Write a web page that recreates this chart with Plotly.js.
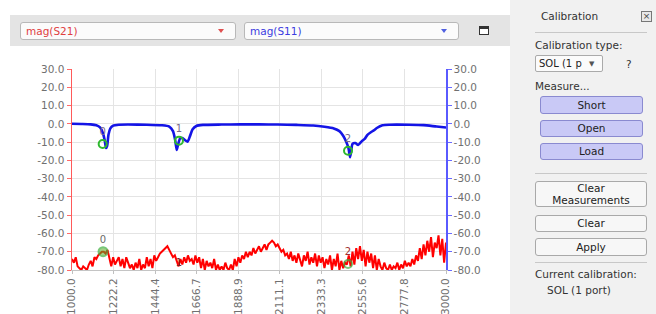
<!DOCTYPE html>
<html>
<head>
<meta charset="utf-8">
<script src="https://cdn.plot.ly/plotly-3.0.1.min.js"></script>
<style>
  html, body { margin:0; padding:0; background:#fff; }
  body { width:656px; height:314px; overflow:hidden; position:relative; font-family:"DejaVu Sans", Verdana, sans-serif; }
  #plot { position:absolute; left:0; top:0; width:656px; height:314px; }
  .abs { position:absolute; }
  #toolbar { left:10px; top:15px; width:500px; height:31px; background:#e4e4e4; }
  .dd { position:absolute; top:7px; height:16px; background:#fbfbfb; border:1px solid #b8b8b8; border-radius:3px; font-size:10.5px; line-height:16px; padding-left:5px; box-sizing:content-box; }
  .arrow { position:absolute; top:6px; width:0; height:0; border-left:3.5px solid transparent; border-right:3.5px solid transparent; }
  #panel { left:510px; top:0; width:146px; height:314px; background:#f1f1f1; }
  .ptxt { position:absolute; font-size:10.5px; color:#333; white-space:nowrap; }
  .btn { position:absolute; left:30px; width:103px; border-radius:3px; font-size:10.5px; color:#222; text-align:center; box-sizing:border-box; }
  .bl { background:#c9c9f6; border:1px solid #8a8ad0; }
  .bw { left:25px; width:112px; background:#f7f7f7; border:1px solid #a9a9a9; }
  .sep { position:absolute; left:25px; width:112px; height:1px; background:#c8c8c8; }
</style>
</head>
<body>
<div id="plot"></div>

<div id="toolbar" class="abs">
  <div class="dd" style="left:10px;width:209px;color:#e0403f;">mag(S21)<div class="arrow" style="left:197px;border-top:4px solid #e05050;"></div></div>
  <div class="dd" style="left:234px;width:208px;color:#3c3ce0;">mag(S11)<div class="arrow" style="left:196px;border-top:4px solid #5060e0;"></div></div>
  <div class="abs" style="left:469px;top:11px;width:8px;height:5px;border:1.5px solid #333;border-top-width:3px;background:#fff;"></div>
</div>

<div id="panel" class="abs">
  <div class="ptxt" style="left:31px;top:10px;">Calibration</div>
  <div class="abs" style="left:131px;top:11px;width:9px;height:9px;border:1px solid #777;font-size:9px;line-height:9px;text-align:center;color:#444;background:#e8e8e8;">×</div>
  <div class="sep" style="top:32px;"></div>
  <div class="ptxt" style="left:25px;top:39px;">Calibration type:</div>
  <div class="abs" style="left:25px;top:55px;width:68px;height:17px;background:#fbfbfb;border:1px solid #aaa;border-radius:2px;box-sizing:border-box;">
    <span style="position:absolute;left:3px;top:0;white-space:nowrap;font-size:10px;line-height:16px;color:#222;">SOL (1 p</span>
    <span style="position:absolute;left:53px;top:0;font-size:7px;line-height:16px;color:#555;">▼</span>
  </div>
  <div class="ptxt" style="left:116px;top:58px;">?</div>
  <div class="ptxt" style="left:25px;top:80px;">Measure...</div>
  <div class="btn bl" style="top:96px;height:18px;line-height:16px;">Short</div>
  <div class="btn bl" style="top:120px;height:17px;line-height:15px;">Open</div>
  <div class="btn bl" style="top:143px;height:17px;line-height:15px;">Load</div>
  <div class="sep" style="top:173px;"></div>
  <div class="btn bw" style="top:181px;height:26px;line-height:11.5px;padding-top:1px;">Clear<br>Measurements</div>
  <div class="btn bw" style="top:215px;height:17px;line-height:15px;">Clear</div>
  <div class="btn bw" style="top:238px;height:18px;line-height:16px;">Apply</div>
  <div class="sep" style="top:262px;"></div>
  <div class="ptxt" style="left:25px;top:268px;">Current calibration:</div>
  <div class="ptxt" style="left:37px;top:284px;">SOL (1 port)</div>
</div>

<script>
// Sweep definition (linear frequency sweep, MHz)
var sweepStart = 1000, sweepStop = 3000, sweepStep = 10;

// mag(S21) in dB, one value per sweep point (1000..3000 step 10)
var s21 = [
  -74, -76, -73, -78, -79,
  -80, -78, -79, -80, -77,
  -75, -78, -73, -74, -72,
  -71, -70, -70, -71, -69,
  -74, -78, -73, -77, -75,
  -73, -78, -74, -79, -73,
  -76, -79, -77, -80, -76,
  -79, -74, -80, -77, -79,
  -73, -78, -74, -79, -72,
  -75, -73, -71, -70, -69,
  -68, -67, -69, -71, -73,
  -72, -75, -78, -74, -77,
  -73, -76, -72, -75, -74,
  -77, -72, -76, -73, -79,
  -74, -80, -75, -78, -76,
  -79, -74, -80, -77, -80,
  -78, -80, -76, -79, -80,
  -77, -80, -74, -78, -73,
  -76, -72, -74, -70, -73,
  -70, -72, -68, -71, -69,
  -67, -70, -68, -66, -69,
  -66, -65, -64, -65, -67,
  -66, -68, -70, -69, -72,
  -71, -74, -70, -75, -72,
  -76, -71, -74, -78, -72,
  -75, -70, -77, -73, -76,
  -71, -78, -72, -76, -73,
  -79, -74, -77, -72, -80,
  -74, -78, -71, -80, -75,
  -79, -76, -77, -72, -78,
  -70, -77, -68, -74, -67,
  -75, -69, -78, -70, -76,
  -71, -79, -72, -80, -74,
  -78, -80, -76, -79, -80,
  -77, -80, -78, -79, -76,
  -80, -77, -79, -75, -78,
  -76, -78, -74, -77, -72,
  -75, -68, -74, -66, -72,
  -64, -70, -62, -73, -65,
  -68, -61, -72, -63, -76,
  -65
];

// mag(S11) in dB (read at chosen frequencies)
var s11Freq = [1000,1050,1100,1130,1150,1165,1175,1182,1188,1195,1205,1220,1250,1300,1400,1480,1520,1540,1552,1560,1568,1578,1590,1605,1618,1630,1645,1665,1700,1800,1900,2000,2100,2200,2290,2350,2400,2430,2450,2465,2478,2487,2493,2500,2515,2530,2550,2565,2580,2600,2615,2630,2660,2700,2800,2880,2950,3000];
var s11 = [0.0,-0.1,-0.3,-0.8,-2,-5,-9,-13.2,-12,-6,-2.5,-1,-0.5,-0.4,-0.5,-0.8,-1.5,-4,-9,-14.3,-11,-8,-7.8,-9,-9.8,-7,-3,-1.2,-0.6,-0.4,-0.3,-0.3,-0.4,-0.6,-0.9,-1.6,-2.5,-4,-6.5,-9.5,-13,-18.3,-15,-11,-10.5,-11.6,-9.5,-8.3,-6,-4.5,-3.5,-2.3,-0.8,-0.5,-0.5,-0.7,-1.5,-2.0];

// Markers
var mkLabels = ["0", "1", "2"];
var s11MkFreq = [1164, 1572, 2476];
var s11MkVal = [-11, -9.2, -14.7];
var s21MkFreq = [1166, 1572, 2476];
var s21MkVal = [-70, -79, -76.7];

// Tick labels
var xTickVals = [1000, 1222.2, 1444.4, 1666.7, 1888.9, 2111.1, 2333.3, 2555.6, 2777.8, 3000];
var xTickText = ["1000.0", "1222.2", "1444.4", "1666.7", "1888.9", "2111.1", "2333.3", "2555.6", "2777.8", "3000.0"];
var yTickVals = [30, 20, 10, 0, -10, -20, -30, -40, -50, -60, -70, -80];
var yTickText = ["30.0", "20.0", "10.0", "0.0", "-10.0", "-20.0", "-30.0", "-40.0", "-50.0", "-60.0", "-70.0", "-80.0"];

var s21Freq = [];
for (var i = 0; i < s21.length; i++) s21Freq.push(sweepStart + i * sweepStep);

var tickFont = {family: "DejaVu Sans, Verdana, sans-serif", size: 10.5, color: "#707070"};

var traces = [
  {x: s21Freq, y: s21, type: "scatter", mode: "lines", yaxis: "y",
   line: {color: "#ff0000", width: 2}, hoverinfo: "skip"},
  {x: s11Freq, y: s11, type: "scatter", mode: "lines", yaxis: "y2",
   line: {color: "#1414e6", width: 2.6, shape: "spline", smoothing: 0.6}, hoverinfo: "skip"},
  {x: s11MkFreq, y: s11MkVal, type: "scatter", mode: "markers+text", yaxis: "y2",
   text: mkLabels, textposition: "top center",
   textfont: {family: "DejaVu Sans, sans-serif", size: 10, color: "#7a6a8a"},
   marker: {symbol: "circle-open", size: 8, color: "#2eb82e", line: {width: 2, color: "#2eb82e"}}, cliponaxis: false},
  {x: s21MkFreq, y: s21MkVal, type: "scatter", mode: "markers+text", yaxis: "y",
   text: mkLabels, textposition: "top center",
   textfont: {family: "DejaVu Sans, sans-serif", size: 10, color: ["#6a6a6a", "#7a2020", "#a03030"]},
   marker: {symbol: "circle", size: [9, 0, 8], color: ["rgba(90,170,40,0.8)", "rgba(0,0,0,0)", "rgba(0,0,0,0)"],
            line: {width: 2, color: "#3fb03f"}}, cliponaxis: false}
];

var layout = {
  width: 656, height: 314,
  margin: {l: 72, r: 210, t: 69, b: 44, pad: 0},
  paper_bgcolor: "rgba(0,0,0,0)", plot_bgcolor: "#ffffff",
  showlegend: false,
  xaxis: {range: [1000, 3000], tickvals: xTickVals, ticktext: xTickText, tickangle: -90,
          showgrid: true, gridcolor: "#e4e4e4", gridwidth: 1, zeroline: false,
          showline: true, linecolor: "#c4c4c4", linewidth: 1,
          ticks: "outside", ticklen: 3, tickcolor: "#c0c0c0", tickfont: tickFont, fixedrange: true},
  yaxis: {range: [-80, 30], tickvals: yTickVals, ticktext: yTickText,
          showgrid: true, gridcolor: "#e4e4e4", zeroline: false,
          showline: true, linecolor: "#ff5a5a", linewidth: 1.5,
          ticks: "outside", ticklen: 4, tickcolor: "#ff6a6a", tickfont: tickFont, fixedrange: true},
  yaxis2: {range: [-80, 30], tickvals: yTickVals, ticktext: yTickText, overlaying: "y", side: "right",
           showgrid: false, zeroline: false,
           showline: true, linecolor: "#5a5aff", linewidth: 1.5,
           ticks: "outside", ticklen: 4, tickcolor: "#6a6aff", tickfont: tickFont, fixedrange: true}
};

Plotly.newPlot("plot", traces, layout, {staticPlot: true, displayModeBar: false});
</script>
</body>
</html>
